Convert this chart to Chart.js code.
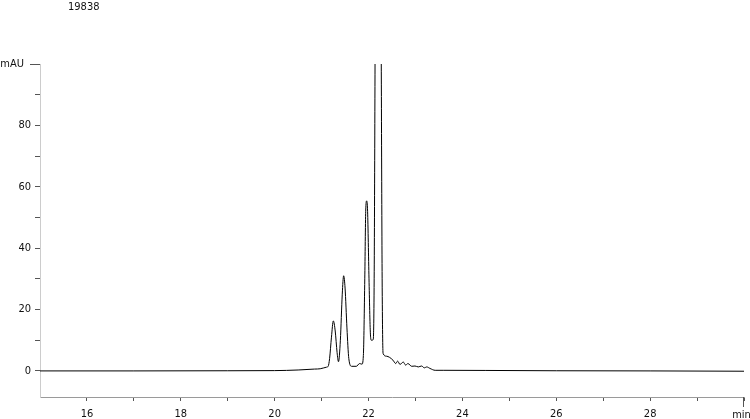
<!DOCTYPE html>
<html>
<head>
<meta charset="utf-8">
<script src="https://cdn.jsdelivr.net/npm/chart.js@4.4.0/dist/chart.umd.min.js"></script>
<style>
  html, body { margin: 0; padding: 0; background: #fff; overflow: hidden; }
</style>
</head>
<body>

<canvas id="chromChart" width="750" height="419"></canvas>

<script>

    // sample name printed above the trace
    let sampleName = "19838";

    // retention time (min) and detector signal (mAU)
    let timeValues = [
        15, 17, 19, 20, 20.5, 20.85, 20.97, 21.1, 21.14, 21.17,
        21.21, 21.25, 21.29, 21.33, 21.36, 21.40, 21.44, 21.47, 21.50, 21.54,
        21.58, 21.64, 21.74, 21.81, 21.86, 21.89, 21.92, 21.94, 21.96, 21.98,
        22.01, 22.04, 22.06, 22.10, 22.12, 22.15, 22.20, 22.26, 22.29, 22.31,
        22.38, 22.45, 22.52, 22.58, 22.62, 22.67, 22.74, 22.79, 22.84, 22.92,
        22.99, 23.06, 23.13, 23.19, 23.24, 23.31, 23.42, 23.59, 24.5, 26,
        28, 30
    ];
    let signalValues = [
        0, 0, 0.05, 0.1, 0.3, 0.6, 0.7, 1.2, 1.5, 4,
        11, 16.3, 13, 6, 3.0, 10, 25, 31, 27, 14,
        4, 1.5, 1.5, 2.4, 2.2, 5, 30, 52, 55.4, 52,
        30, 12, 10, 10.2, 30, 140, 200, 140, 30, 5.7,
        4.8, 4.4, 3.5, 2.4, 3.2, 2.1, 2.9, 1.9, 2.4, 1.5,
        1.6, 1.3, 1.6, 1.0, 1.3, 0.8, 0.2, 0.2, 0.15, 0.05,
        0, -0.1
    ];

    // axis ticks (labels only on the even minutes / every 20 mAU)
    let xTicks = [16, 17, 18, 19, 20, 21, 22, 23, 24, 25, 26, 27, 28, 29, 30];
    let yTicks = [0, 10, 20, 30, 40, 50, 60, 70, 80, 90, 100];
    let xUnit = "min";
    let yUnit = "mAU";

    let fontFamily = '"DejaVu Sans Condensed", "DejaVu Sans", sans-serif';
    let textColor = "#111111";
    let tickColor = "#555555";

    // title, unit labels and the longer end ticks
    let extrasPlugin = {
        id: "extras",
        afterDraw(chart) {
            let ctx = chart.ctx;
            let xs = chart.scales.x;
            let ys = chart.scales.y;
            ctx.save();
            ctx.font = "11px " + fontFamily;
            ctx.fillStyle = textColor;

            ctx.textAlign = "left";
            ctx.textBaseline = "alphabetic";
            ctx.fillText(sampleName, 68, 9.5);

            ctx.strokeStyle = tickColor;
            ctx.lineWidth = 1;

            // y end tick + unit
            let yTop = Math.round(ys.getPixelForValue(100)) + 0.5;
            ctx.beginPath();
            ctx.moveTo(ys.right - 10, yTop);
            ctx.lineTo(ys.right, yTop);
            ctx.stroke();
            ctx.textAlign = "right";
            ctx.textBaseline = "middle";
            ctx.fillText(yUnit, ys.right - 16, yTop);

            // x end tick + unit
            let xEnd = Math.round(xs.getPixelForValue(30)) - 0.5;
            ctx.beginPath();
            ctx.moveTo(xEnd, xs.top);
            ctx.lineTo(xEnd, xs.top + 10);
            ctx.stroke();
            ctx.textAlign = "center";
            ctx.textBaseline = "alphabetic";
            ctx.fillText(xUnit, xEnd - 2, 418);

            ctx.restore();
        }
    };

    new Chart("chromChart", {
        type: "line",
        data: {
            datasets: [{
                data: timeValues.map((t, i) => ({x: t, y: signalValues[i]})),
                borderColor: "#000000",
                borderWidth: 1,
                pointRadius: 0,
                fill: false,
                cubicInterpolationMode: "monotone"
            }]
        },
        options: {
            responsive: false,
            animation: false,
            devicePixelRatio: 1,
            layout: {padding: {top: 64, right: 6, left: 0, bottom: 0}},
            plugins: {
                legend: {display: false},
                tooltip: {enabled: false},
                title: {display: false}
            },
            scales: {
                x: {
                    type: "linear",
                    min: 15,
                    max: 30,
                    afterBuildTicks: s => { s.ticks = xTicks.map(v => ({value: v})); },
                    afterFit: s => { s.height = 22; s.paddingLeft = 0; s.paddingRight = 0; },
                    ticks: {
                        autoSkip: false,
                        maxRotation: 0,
                        padding: 7,
                        color: textColor,
                        font: {family: fontFamily, size: 11},
                        callback: v => (v % 2 === 0 && v !== 30) ? String(v) : ""
                    },
                    grid: {drawOnChartArea: false, drawTicks: true, tickLength: 4, tickColor: tickColor},
                    border: {color: "#9a9a9a", width: 1}
                },
                y: {
                    min: -8.5,
                    max: 100,
                    afterBuildTicks: s => { s.ticks = yTicks.map(v => ({value: v})); },
                    afterFit: s => { s.width = 40; s.paddingTop = 0; s.paddingBottom = 0; },
                    ticks: {
                        autoSkip: false,
                        padding: 4,
                        color: textColor,
                        font: {family: fontFamily, size: 11},
                        callback: v => (v % 20 === 0 && v !== 100) ? String(v) : ""
                    },
                    grid: {drawOnChartArea: false, drawTicks: true, tickLength: 5, tickColor: tickColor},
                    border: {color: "#cccccc", width: 1}
                }
            }
        },
        plugins: [extrasPlugin]
    });

</script>
</body>
</html>
